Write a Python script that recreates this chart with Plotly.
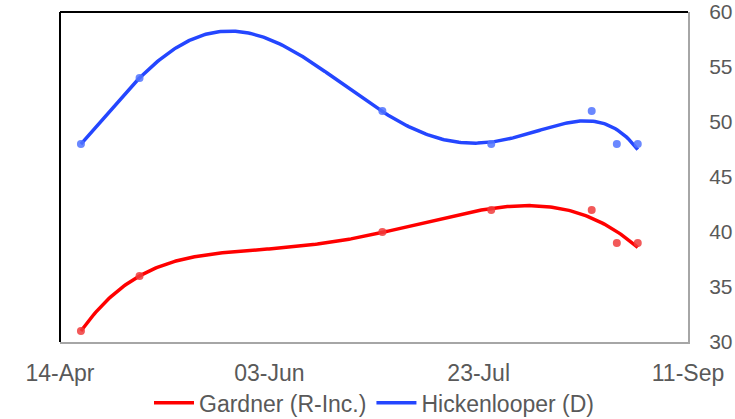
import numpy as np
import pandas as pd
import plotly.graph_objects as go

poll_dates = ["2020-04-19", "2020-05-03", "2020-06-30", "2020-07-26",
              "2020-08-19", "2020-08-25", "2020-08-30"]
gardner = [31, 36, 40, 42, 42, 39, 39]
hickenlooper = [48, 54, 51, 48, 51, 48, 48]
x_ticks = ["2020-04-14", "2020-06-03", "2020-07-23", "2020-09-11"]
x_tick_labels = ["14-Apr", "03-Jun", "23-Jul", "11-Sep"]
y_ticks = [30, 35, 40, 45, 50, 55, 60]
TREND_DEGREE = 5

dates = pd.to_datetime(poll_dates)
days = (dates - dates[0]).days.values.astype(float)
grid_days = np.linspace(days.min(), days.max(), 300)
grid_dates = dates[0] + pd.to_timedelta(grid_days, unit="D")

def trend(vals, deg=TREND_DEGREE):
    t = days / days.max()
    c = np.polyfit(t, vals, deg)
    return np.polyval(c, grid_days / days.max())

RED_LINE = "#FF0000"
RED_MK = "rgba(240,60,60,0.85)"
BLUE_LINE = "#2446FF"
BLUE_MK = "rgba(80,115,255,0.85)"

fig = go.Figure()
fig.add_trace(go.Scatter(x=grid_dates, y=trend(gardner), mode="lines",
                         line=dict(color=RED_LINE, width=3.5),
                         name="Gardner (R-Inc.)", yaxis="y2"))
fig.add_trace(go.Scatter(x=grid_dates, y=trend(hickenlooper), mode="lines",
                         line=dict(color=BLUE_LINE, width=3.5),
                         name="Hickenlooper (D)", yaxis="y2"))
fig.add_trace(go.Scatter(x=dates, y=gardner, mode="markers",
                         marker=dict(color=RED_MK, size=8),
                         showlegend=False, yaxis="y2"))
fig.add_trace(go.Scatter(x=dates, y=hickenlooper, mode="markers",
                         marker=dict(color=BLUE_MK, size=8),
                         showlegend=False, yaxis="y2"))

font = dict(family="Liberation Sans, Arial, sans-serif", size=23, color="#595959")
yfont = dict(family="Liberation Sans, Arial, sans-serif", size=21, color="#595959")

fig.update_layout(
    width=735, height=419,
    margin=dict(l=60, r=47, t=12, b=77, autoexpand=False),
    paper_bgcolor="white", plot_bgcolor="white",
    font=font,
    showlegend=True,
    legend=dict(orientation="h", x=0.5, xanchor="center",
                y=-0.184, yanchor="middle", font=font,
                traceorder="normal", itemwidth=40),
    xaxis=dict(type="date", automargin=False,
               range=[x_ticks[0], x_ticks[-1]],
               tickvals=x_ticks, ticktext=x_tick_labels,
               showgrid=False, zeroline=False,
               showline=True, linecolor="#A6A6A6", linewidth=2,
               ticks="", ticklabelstandoff=9, tickfont=font,
               ticklabeloverflow="allow"),
    yaxis=dict(range=[30, 60], showgrid=False, zeroline=False, automargin=False,
               showticklabels=False, showline=False),
    yaxis2=dict(range=[30, 60], overlaying="y", side="right", automargin=False,
                tickvals=y_ticks, showgrid=False, zeroline=False,
                showline=True, linecolor="#A6A6A6", linewidth=2,
                ticks="", ticklabelstandoff=15, tickfont=yfont,
                ticklabeloverflow="allow"),
    shapes=[
        dict(type="line", xref="paper", yref="paper", x0=0, x1=0, y0=0, y1=1,
             line=dict(color="black", width=2)),
        dict(type="line", xref="paper", yref="paper", x0=0, x1=1, y0=1, y1=1,
             line=dict(color="black", width=2)),
    ],
)

fig.write_html("out.html",
               config={"displayModeBar": False},
               post_script="document.body.style.margin='0';document.body.style.padding='0';")
